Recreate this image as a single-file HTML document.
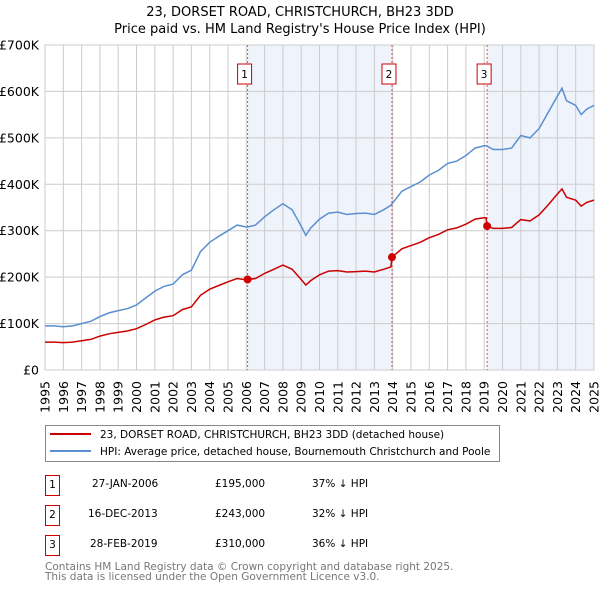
<!DOCTYPE html>
<html><head><meta charset="utf-8"><style>
body{margin:0;background:#fff;font-family:"Liberation Sans","DejaVu Sans",sans-serif;}
svg text{font-family:"DejaVu Sans","Liberation Sans",sans-serif;}
</style></head><body>
<svg id="chart" width="600" height="590" xmlns="http://www.w3.org/2000/svg">
<text x="300" y="16" font-size="13" text-anchor="middle">23, DORSET ROAD, CHRISTCHURCH, BH23 3DD</text>
<text x="300" y="33" font-size="13" text-anchor="middle">Price paid vs. HM Land Registry's House Price Index (HPI)</text>
<g id="plot"></g>
<g>
<rect x="45.5" y="425.5" width="454" height="36" fill="#fff" stroke="#888"/>
<line x1="50" y1="434" x2="91" y2="434" stroke="#cc0000" stroke-width="2"/>
<text x="100" y="438" font-size="10.5">23, DORSET ROAD, CHRISTCHURCH, BH23 3DD (detached house)</text>
<line x1="50" y1="451" x2="91" y2="451" stroke="#5b8fd0" stroke-width="2"/>
<text x="100" y="455" font-size="10.5">HPI: Average price, detached house, Bournemouth Christchurch and Poole</text>
</g>
<g font-size="10.5">
<rect x="45.5" y="475.5" width="14" height="20" fill="none" stroke="#cc0000"/><text x="52.5" y="488" text-anchor="middle">1</text>
<text x="92" y="487">27-JAN-2006</text><text x="215" y="487">£195,000</text><text x="312" y="487">37% ↓ HPI</text>
<rect x="45.5" y="505.5" width="14" height="20" fill="none" stroke="#cc0000"/><text x="52.5" y="518" text-anchor="middle">2</text>
<text x="88" y="517">16-DEC-2013</text><text x="215" y="517">£243,000</text><text x="312" y="517">32% ↓ HPI</text>
<rect x="45.5" y="535.5" width="14" height="20" fill="none" stroke="#cc0000"/><text x="52.5" y="548" text-anchor="middle">3</text>
<text x="90" y="547">28-FEB-2019</text><text x="215" y="547">£310,000</text><text x="312" y="547">36% ↓ HPI</text>
</g>
<g font-size="10.5" fill="#777">
<text x="45" y="570">Contains HM Land Registry data © Crown copyright and database right 2025.</text>
<text x="45" y="580">This data is licensed under the Open Government Licence v3.0.</text>
</g>
</svg>
<script>
const dates=[1995,1995.5,1996,1996.5,1997,1997.5,1998,1998.5,1999,1999.5,2000,2000.5,2001,2001.5,2002,2002.5,2003,2003.5,2004,2004.5,2005,2005.5,2006,2006.07,2006.5,2007,2007.5,2008,2008.5,2009,2009.25,2009.5,2010,2010.5,2011,2011.5,2012,2012.5,2013,2013.5,2013.9,2013.96,2014.5,2015,2015.5,2016,2016.5,2017,2017.5,2018,2018.5,2019,2019.1,2019.16,2019.5,2020,2020.5,2021,2021.5,2022,2022.5,2023,2023.25,2023.5,2024,2024.3,2024.6,2025];
const hpiValues=[95,95,93,95,100,105,115,123,128,132,140,155,170,180,185,205,215,255,275,288,300,312,308,308,312,330,345,358,345,310,290,305,325,338,340,335,337,338,335,345,355,358,385,395,405,420,430,445,450,462,478,483,483,482,475,475,478,505,500,520,555,590,607,580,570,550,562,570];
const priceValues=[60,60,59,60,63,66,73,78,81,84,89,98,108,114,117,130,136,161,174,182,190,197,194,195,197,208,217,226,217,195,183,192,205,213,214,211,212,213,211,217,222,243,261,268,275,285,292,302,306,314,325,328,328,310,305,305,307,324,321,334,356,379,390,372,366,353,361,366];
const saleDates=[2006.07,2013.96,2019.16];
const saleValues=[195,243,310];
const saleLabels=["1","2","3"];
const yTicks=[0,100,200,300,400,500,600,700];
const yTickLabels=["£0","£100K","£200K","£300K","£400K","£500K","£600K","£700K"];
const xTicks=[];for(let y=1995;y<=2025;y++)xTicks.push(y);

const L=45,R=594,T=45,B=370;
const xs=d=>L+(d-1995)/(2025-1995)*(R-L);
const ys=v=>B-v/700*(B-T);
const NS="http://www.w3.org/2000/svg";
const g=document.getElementById('plot');
function mk(t,a){const e=document.createElementNS(NS,t);for(const k in a)e.setAttribute(k,a[k]);g.appendChild(e);return e;}
let e=mk('rect',{x:L,y:T,width:R-L,height:B-T,fill:'#fff'});


const shades=[[saleDates[0],saleDates[1]],[saleDates[2],2025]];
shades.forEach(s=>{const r=mk('rect',{x:xs(s[0]),y:T,width:xs(s[1])-xs(s[0]),height:B-T,fill:'#eef3fc'});

});
xTicks.forEach(t=>{const l=mk('line',{x1:xs(t),x2:xs(t),y1:T,y2:B,stroke:'#ccc','stroke-width':1});


const tx=mk('text',{x:0,y:0,'font-size':12.5,transform:`translate(${xs(t)+4.5},${B+11}) rotate(-90)`,'text-anchor':'end'});tx.textContent=t;

});
yTicks.forEach((t,i)=>{const l=mk('line',{x1:L,x2:R,y1:ys(t),y2:ys(t),stroke:'#ccc','stroke-width':1});


const tx=mk('text',{x:L-6,y:ys(t)+4.5,'font-size':12.5,'text-anchor':'end'});tx.textContent=yTickLabels[i];

});
e=mk('rect',{x:L,y:T,width:R-L,height:B-T,fill:'none',stroke:'#ccc'});


saleDates.forEach((d,i)=>{const l=mk('line',{x1:xs(d),x2:xs(d),y1:T,y2:B,stroke:'#e05050','stroke-dasharray':'2,2','stroke-width':1});


const b=mk('rect',{x:xs(d)-10,y:64,width:14,height:20,fill:'#fff',stroke:'#cc0000'});


const t=mk('text',{x:xs(d)-3,y:78,'font-size':10.5,'text-anchor':'middle'});t.textContent=saleLabels[i];

});
const path=v=>dates.map((d,i)=>(i?'L':'M')+xs(d).toFixed(1)+','+ys(v[i]).toFixed(1)).join('');
e=mk('path',{d:path(hpiValues),fill:'none',stroke:'#5b8fd0','stroke-width':1.5});


e=mk('path',{d:path(priceValues),fill:'none',stroke:'#cc0000','stroke-width':1.5});


saleDates.forEach((d,i)=>{const c=mk('circle',{cx:xs(d),cy:ys(saleValues[i]),r:4,fill:'#cc0000'});

});
</script>
</body></html>
